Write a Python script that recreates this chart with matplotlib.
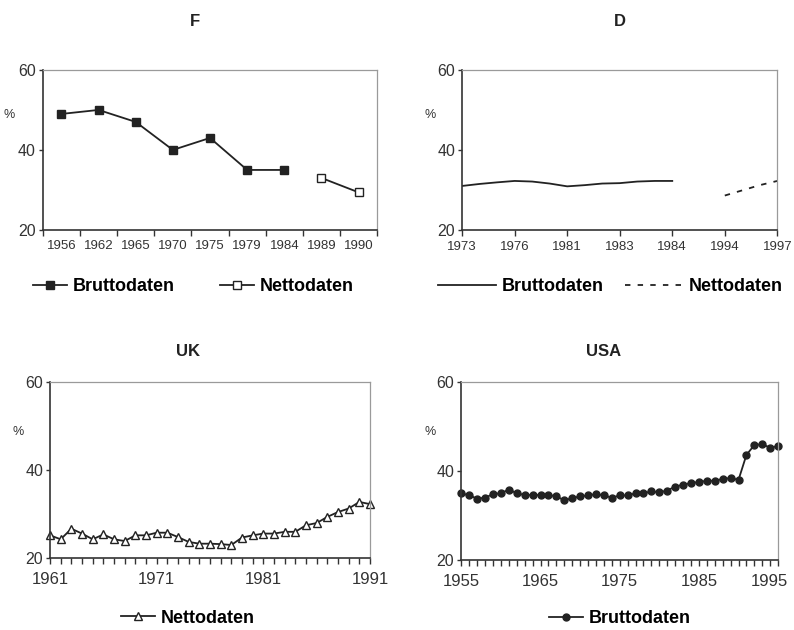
import numpy as np
import matplotlib
matplotlib.use("Agg")
import matplotlib.pyplot as plt
import matplotlib.transforms as mtransforms

plt.rcParams["font.family"] = ["Liberation Sans", "DejaVu Sans"]

# F: categorical years, gross and net data
f_years = ["1956", "1962", "1965", "1970", "1975", "1979", "1984", "1989", "1990"]
f_brutto = [49, 50, 47, 40, 43, 35, 35, np.nan, np.nan]
f_netto = [np.nan, np.nan, np.nan, np.nan, np.nan, np.nan, np.nan, 33, 29.4]

# D: categorical axis, label every third category
d_labels = ["1973", "1976", "1981", "1983", "1984", "1994", "1997"]
d_brutto = [31.0, 31.5, 31.9, 32.25, 32.1, 31.6, 30.9, 31.2, 31.6, 31.7, 32.1, 32.25, 32.25,
            np.nan, np.nan, np.nan, np.nan, np.nan, np.nan]
d_netto = [np.nan] * 15 + [28.6, 29.9, 31.2, 32.25]

# UK 1961-1991, net data
uk_years = list(range(1961, 1992))
uk_netto = [25.2, 24.3, 26.7, 25.6, 24.3, 25.4, 24.3, 23.9, 25.2, 25.2, 25.8, 25.8, 24.8,
            23.7, 23.3, 23.3, 23.2, 23.0, 24.7, 25.2, 25.6, 25.6, 26.0, 26.0, 27.5, 28.0,
            29.4, 30.5, 31.3, 32.8, 32.3]

# USA 1955-1995, gross data
usa_years = list(range(1955, 1996))
usa_brutto = [35.0, 34.5, 33.8, 34.0, 34.8, 35.0, 35.8, 35.0, 34.6, 34.6, 34.6, 34.6, 34.3,
              33.4, 33.9, 34.3, 34.5, 34.8, 34.5, 34.0, 34.5, 34.5, 35.0, 35.0, 35.4, 35.2,
              35.6, 36.5, 36.9, 37.3, 37.5, 37.8, 37.8, 38.2, 38.4, 38.0, 43.6, 45.8, 46.0,
              45.2, 45.6]

line_col = "#222222"
tick_col = "#333333"


def style_axes(ax):
    ax.set_ylim(20, 60)
    ax.set_yticks([20, 40, 60])
    for s in ["left", "bottom"]:
        ax.spines[s].set_color("#333333")
        ax.spines[s].set_linewidth(1.2)
    for s in ["top", "right"]:
        ax.spines[s].set_color("#9a9a9a")
        ax.spines[s].set_linewidth(0.9)
    ax.tick_params(axis="y", labelsize=11.5, colors=tick_col, length=3, width=1, pad=2)
    ax.tick_params(axis="x", colors=tick_col, length=4, width=1, direction="out")
    ax.text(-0.1, 0.72, "%", transform=ax.transAxes, fontsize=9, color=tick_col,
            ha="center", va="center")


fig = plt.figure(figsize=(7.94, 6.30), dpi=100)

# F
ax = fig.add_axes([0.054, 0.635, 0.421, 0.254])
x = np.arange(len(f_years))
ax.plot(x, f_brutto, color=line_col, lw=1.3, marker="s", ms=5.8, mfc=line_col, mec=line_col,
        label="Bruttodaten")
ax.plot(x, f_netto, color=line_col, lw=1.3, marker="s", ms=5.8, mfc="white", mec=line_col,
        label="Nettodaten")
ax.set_xlim(-0.5, len(f_years) - 0.5)
ax.set_xticks(x)
ax.set_xticklabels(f_years)
ax.set_xticks(np.arange(-0.5, len(f_years)), minor=True)
style_axes(ax)
ax.tick_params(axis="x", which="major", length=0, labelsize=9.5, pad=7)
ax.tick_params(axis="x", which="minor", length=4, width=1, color=tick_col)
ax.legend(loc="upper center", bbox_to_anchor=(0.45, -0.2), ncol=2, frameon=False,
          prop={"size": 13, "weight": "bold"}, handlelength=1.9, columnspacing=2.5,
          handletextpad=0.3)

# D
ax = fig.add_axes([0.582, 0.635, 0.397, 0.254])
x = np.arange(len(d_brutto))
ax.plot(x, d_brutto, color=line_col, lw=1.3, label="Bruttodaten")
ax.plot(x, d_netto, color=line_col, lw=1.3, ls=(0, (3, 4)), label="Nettodaten")
ax.set_xlim(0, len(d_brutto) - 1)
ax.set_xticks(np.arange(0, len(d_brutto), 3))
ax.set_xticklabels(d_labels)
style_axes(ax)
ax.tick_params(axis="x", labelsize=9.5, pad=4)
ax.legend(loc="upper center", bbox_to_anchor=(0.47, -0.2), ncol=2, frameon=False,
          prop={"size": 13, "weight": "bold"}, handlelength=3.2, columnspacing=1.2,
          handletextpad=0.3)

# UK
ax = fig.add_axes([0.063, 0.114, 0.403, 0.279])
ax.plot(uk_years, uk_netto, color=line_col, lw=1.3, marker="^", ms=5.5, mfc="white",
        mec=line_col, mew=1.0, label="Nettodaten", clip_on=False)
ax.set_xlim(uk_years[0], uk_years[-1])
ax.set_xticks([1961, 1971, 1981, 1991])
ax.set_xticks(uk_years, minor=True)
style_axes(ax)
ax.tick_params(axis="x", which="both", length=4, width=1, color=tick_col)
ax.tick_params(axis="x", which="major", labelsize=12, pad=6)
ax.legend(loc="upper center", bbox_to_anchor=(0.43, -0.2), ncol=1, frameon=False,
          prop={"size": 13, "weight": "bold"}, handlelength=1.9, handletextpad=0.3)

# USA
ax = fig.add_axes([0.581, 0.111, 0.399, 0.283])
ax.plot(usa_years, usa_brutto, color=line_col, lw=1.3, marker="o", ms=5, mfc=line_col,
        mec=line_col, label="Bruttodaten", clip_on=False)
ax.set_xlim(usa_years[0], usa_years[-1])
ax.set_xticks([1955, 1965, 1975, 1985, 1995])
ax.set_xticks(usa_years, minor=True)
style_axes(ax)
ax.tick_params(axis="x", which="both", length=4, width=1, color=tick_col)
ax.tick_params(axis="x", which="major", labelsize=12, pad=6)
last = ax.get_xticklabels()[-1]
last.set_transform(last.get_transform() +
                   mtransforms.ScaledTranslation(-9 / 100, 0, fig.dpi_scale_trans))
ax.legend(loc="upper center", bbox_to_anchor=(0.5, -0.19), ncol=1, frameon=False,
          prop={"size": 13, "weight": "bold"}, handlelength=1.9, handletextpad=0.3)

# panel titles
title_kw = dict(fontsize=12, fontweight="bold", color="#222222", ha="center", va="center")
fig.text(195 / 794, 1 - 22 / 630, "F", **title_kw)
fig.text(620 / 794, 1 - 22 / 630, "D", **title_kw)
fig.text(188 / 794, 1 - 352 / 630, "UK", **title_kw)
fig.text(604 / 794, 1 - 352 / 630, "USA", **title_kw)

fig.savefig("out.png", dpi=100)
